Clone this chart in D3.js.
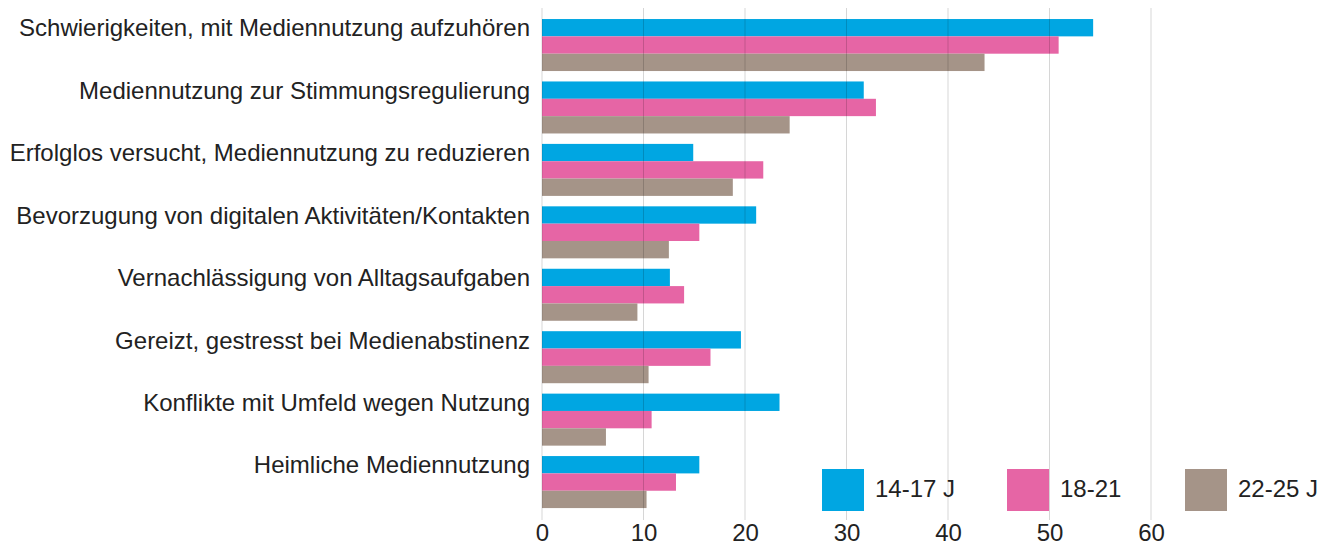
<!DOCTYPE html>
<html>
<head>
<meta charset="utf-8">
<script src="https://cdn.jsdelivr.net/npm/d3@7"></script>
<style>
  body { margin: 0; background: #fff; }
  svg text { font-family: "Liberation Sans", Arial, sans-serif; fill: #222; }
</style>
</head>
<body>
<svg class="chart" width="1328" height="547"></svg>
<script>
const categories = [
    'Schwierigkeiten, mit Mediennutzung aufzuhören',
    'Mediennutzung zur Stimmungsregulierung',
    'Erfolglos versucht, Mediennutzung zu reduzieren',
    'Bevorzugung von digitalen Aktivitäten/Kontakten',
    'Vernachlässigung von Alltagsaufgaben',
    'Gereizt, gestresst bei Medienabstinenz',
    'Konflikte mit Umfeld wegen Nutzung',
    'Heimliche Mediennutzung'
];
const seriesNames = ['14-17 J', '18-21', '22-25 J'];
const seriesColors = ['#00a6e2', '#e665a5', '#a59488'];
const values1417 = [54.3, 31.7, 14.9, 21.1, 12.6, 19.6, 23.4, 15.5];
const values1821 = [50.9, 32.9, 21.8, 15.5, 14.0, 16.6, 10.8, 13.2];
const values2225 = [43.6, 24.4, 18.8, 12.5, 9.4, 10.5, 6.3, 10.3];
const xTicks = [0, 10, 20, 30, 40, 50, 60];

const seriesValues = [values1417, values1821, values2225];
const data = [];
categories.forEach((c, i) => {
    seriesNames.forEach((s, j) => {
        data.push({ cat: c, series: s, value: seriesValues[j][i], color: seriesColors[j] });
    });
});

const fontSize = 24;
const svg = d3.select('svg.chart');

const xScale = d3.scaleLinear()
    .domain([0, 60])
    .range([542, 1151]);

const yScale = d3.scaleBand()
    .domain(categories)
    .range([8.6, 518.5])
    .padding(0.167);

const sScale = d3.scaleBand()
    .domain(seriesNames)
    .range([0, yScale.bandwidth()]);

// bars
svg.append('g')
    .selectAll('rect')
    .data(data)
    .enter()
    .append('rect')
    .attr('x', xScale(0))
    .attr('y', (d) => yScale(d.cat) + sScale(d.series))
    .attr('width', (d) => xScale(d.value) - xScale(0))
    .attr('height', sScale.bandwidth())
    .attr('fill', (d) => d.color);

// vertical grid lines, drawn over the bars
svg.append('g')
    .selectAll('line')
    .data(xTicks)
    .enter()
    .append('line')
    .attr('x1', (d) => xScale(d))
    .attr('x2', (d) => xScale(d))
    .attr('y1', 8)
    .attr('y2', 520)
    .attr('stroke', 'rgba(0,0,0,0.16)')
    .attr('stroke-width', 1);

// x axis labels
const xAxis = svg.append('g')
    .attr('transform', 'translate(0, 523)')
    .call(d3.axisBottom(xScale).tickValues(xTicks).tickSize(0).tickPadding(1));
xAxis.select('.domain').remove();
xAxis.selectAll('text')
    .attr('font-size', fontSize)
    .style('font-family', '"Liberation Sans", Arial, sans-serif')
    .attr('fill', '#222');

// category labels, baseline on the bottom of the first bar
svg.append('g')
    .selectAll('text')
    .data(categories)
    .enter()
    .append('text')
    .attr('x', 530)
    .attr('y', (d) => yScale(d) + sScale.bandwidth())
    .attr('text-anchor', 'end')
    .attr('font-size', fontSize)
    .text((d) => d);

// legend
const legendX = [822, 1007, 1185];
const legend = svg.append('g');
seriesNames.forEach((s, j) => {
    legend.append('rect')
        .attr('x', legendX[j])
        .attr('y', 469)
        .attr('width', 42)
        .attr('height', 42)
        .attr('fill', seriesColors[j]);
    legend.append('text')
        .attr('x', legendX[j] + 53)
        .attr('y', 497)
        .attr('font-size', fontSize)
        .text(s);
});
</script>
</body>
</html>
